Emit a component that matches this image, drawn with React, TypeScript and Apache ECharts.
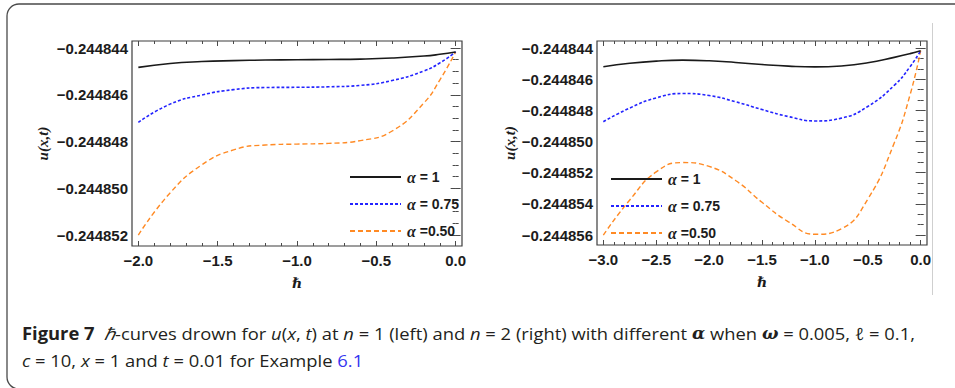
import React, { useEffect, useRef } from 'react';
import * as echarts from 'echarts';

// ---------- data ----------
const seriesNames = ['α = 1', 'α = 0.75', 'α =0.50'];

// left panel: n = 1
const xLeft = [-2, -1.8, -1.6, -1.4, -1.2, -1.0, -0.8, -0.6, -0.4, -0.2, -0.1, 0];
const leftAlpha1 = [-0.24484483, -0.24484466, -0.24484458, -0.24484454, -0.244844515, -0.2448445, -0.24484449, -0.244844475, -0.24484443, -0.244844345, -0.24484427, -0.24484417];
const leftAlpha075 = [-0.24484718, -0.2448464, -0.24484601, -0.24484578, -0.24484569, -0.24484568, -0.24484566, -0.2448456, -0.24484539, -0.24484498, -0.24484464, -0.24484417];
const leftAlpha050 = [-0.244852, -0.2448502, -0.244849, -0.24484836, -0.24484815, -0.24484811, -0.24484808, -0.24484796, -0.24484755, -0.24484635, -0.24484537, -0.24484417];

// right panel: n = 2
const xRight = [-3, -2.75, -2.5, -2.25, -2, -1.75, -1.5, -1.25, -1, -0.75, -0.5, -0.25, -0.1, 0];
const rightAlpha1 = [-0.2448452, -0.24484498, -0.24484484, -0.24484478, -0.24484482, -0.24484493, -0.24484506, -0.24484516, -0.24484521, -0.24484515, -0.24484495, -0.2448446, -0.24484436, -0.24484417];
const rightAlpha075 = [-0.24484873, -0.24484785, -0.2448472, -0.24484692, -0.24484705, -0.24484745, -0.24484795, -0.2448484, -0.24484868, -0.2448485, -0.24484775, -0.2448464, -0.2448452, -0.24484417];
const rightAlpha050 = [-0.244856, -0.24485375, -0.24485195, -0.24485135, -0.2448516, -0.2448525, -0.2448539, -0.24485515, -0.24485595, -0.2448556, -0.2448537, -0.2448501, -0.244847, -0.24484417];

// tick labels
const xTicksLeft = [-2, -1.5, -1, -0.5, 0];
const yTicksLeft = [-0.244852, -0.24485, -0.244848, -0.244846, -0.244844];
const xTicksRight = [-3, -2.5, -2, -1.5, -1, -0.5, 0];
const yTicksRight = [-0.244856, -0.244854, -0.244852, -0.24485, -0.244848, -0.244846, -0.244844];

// ---------- styling ----------
const TICK_FONT = '"Liberation Sans", Arial, sans-serif';
const SERIF = '"Liberation Serif", "DejaVu Serif", serif';
const CAP_FONT = '"Open Sans", sans-serif';
const TEXT_COLOR = '#1c1c1c';
const LINE_COLORS = ['#1a1a1a', '#2424ff', '#ff8a24'];
const LINE_TYPES: any[] = ['solid', [3, 2], [5, 3]];
const LINE_WIDTHS = [1.6, 1.6, 1.4];

function steps(from: number, to: number, step: number) {
  const out: number[] = [];
  const n = Math.round((to - from) / step);
  for (let k = 0; k <= n; k++) out.push(+(from + k * step).toPrecision(12));
  return out;
}

const fmtY = (v: number) => '\u2212' + Math.abs(v).toFixed(6);
const fmtX = (v: number) => (v < -1e-9 ? '\u2212' : '') + Math.abs(v).toFixed(1);

function makeAxes(
  dir: 'x' | 'y',
  gridIndex: number,
  min: number,
  max: number,
  major: number[],
  minor: number[],
  name: string,
  nameGap: number,
) {
  const positions = dir === 'x' ? ['bottom', 'bottom', 'top', 'top'] : ['left', 'left', 'right', 'right'];
  return positions.map((position, i) => {
    const isMajor = i % 2 === 0;
    const withLabels = i === 0;
    const ax: any = {
      type: 'value',
      gridIndex,
      position,
      min,
      max,
      scale: true,
      splitLine: { show: false },
      axisLine: { show: false },
      axisTick: {
        show: true,
        inside: true,
        length: isMajor ? 5 : 3,
        customValues: isMajor ? major : minor,
        lineStyle: { color: '#4a4a4a', width: 1 },
      },
      axisLabel: withLabels
        ? {
            show: true,
            customValues: major,
            formatter: dir === 'x' ? fmtX : fmtY,
            margin: dir === 'x' ? 7 : 4,
            fontFamily: TICK_FONT,
            fontWeight: 'bold',
            fontSize: 15,
            color: TEXT_COLOR,
            hideOverlap: false,
          }
        : { show: false },
      silent: true,
    };
    if (withLabels) {
      ax.name = name;
      ax.nameLocation = 'middle';
      ax.nameGap = nameGap;
      ax.nameMoveOverlap = false;
      ax.nameTextStyle =
        dir === 'x'
          ? { fontFamily: '"DejaVu Serif", serif', fontStyle: 'italic', fontWeight: 'bold', fontSize: 14, color: TEXT_COLOR }
          : { fontFamily: SERIF, fontStyle: 'italic', fontWeight: 'bold', fontSize: 15, color: TEXT_COLOR };
    }
    return ax;
  });
}

function mkSeries(xs: number[], ys: number[], idx: number, panel: number) {
  return {
    type: 'line',
    name: seriesNames[idx],
    xAxisIndex: panel * 4,
    yAxisIndex: panel * 4,
    data: xs.map((x, i) => [x, ys[i]]),
    smooth: true,
    symbol: 'none',
    silent: true,
    lineStyle: { color: LINE_COLORS[idx], width: LINE_WIDTHS[idx], type: LINE_TYPES[idx] },
    itemStyle: { color: LINE_COLORS[idx] },
    z: 3 - idx,
  };
}

// ---------- caption ----------
const CAP_COLOR = '#231f20';
const capStyles: Record<string, any> = {
  r: { fontFamily: CAP_FONT, fontSize: 17, fill: CAP_COLOR },
  b: { fontFamily: CAP_FONT, fontSize: 17, fontWeight: 'bold', fill: CAP_COLOR },
  i: { fontFamily: CAP_FONT, fontSize: 17, fontStyle: 'italic', fill: CAP_COLOR },
  g: { fontFamily: '"DejaVu Serif", serif', fontSize: 16, fontStyle: 'italic', fontWeight: 'bold', fill: CAP_COLOR },
  lk: { fontFamily: CAP_FONT, fontSize: 17, fill: '#3535f0' },
};
const captionLine1: [string, string][] = [
  ['b', 'Figure 7'], ['r', '  '], ['i', 'ℏ'], ['r', '-curves drown for '], ['i', 'u'], ['r', '('], ['i', 'x'],
  ['r', ', '], ['i', 't'], ['r', ') at '], ['i', 'n'], ['r', ' = 1 (left) and '], ['i', 'n'],
  ['r', ' = 2 (right) with different '], ['g', 'α'], ['r', ' when '], ['g', 'ω'], ['r', ' = 0.005, '],
  ['i', 'ℓ'], ['r', ' = 0.1,'],
];
const captionLine2: [string, string][] = [
  ['i', 'c'], ['r', ' = 10, '], ['i', 'x'], ['r', ' = 1 and '], ['i', 't'], ['r', ' = 0.01 for Example '], ['lk', '6.1'],
];

function measure(segs: [string, string][]) {
  const ctx = document.createElement('canvas').getContext('2d');
  if (!ctx) return 1000;
  let w = 0;
  for (const [k, t] of segs) {
    const s = capStyles[k];
    ctx.font = `${s.fontStyle || 'normal'} ${s.fontWeight || 'normal'} ${s.fontSize}px ${s.fontFamily}`;
    w += ctx.measureText(t).width;
  }
  return w;
}
const richText = (segs: [string, string][]) => segs.map(([k, t]) => `{${k}|${t}}`).join('');

export default function App() {
  const ref = useRef<HTMLDivElement>(null);

  useEffect(() => {
    if (!ref.current) return;
    const chart = echarts.init(ref.current, undefined, { renderer: 'svg' });

    const capScale = 893 / measure(captionLine1);

    const legendCommon = {
      orient: 'vertical',
      padding: 0,
      itemWidth: 51,
      itemHeight: 14,
      itemGap: 11,
      selectedMode: false,
      data: seriesNames,
      itemStyle: { opacity: 0, color: 'rgba(0,0,0,0)', borderWidth: 0 },
      formatter: (n: string) => n.replace('α', '{a|α}'),
      textStyle: {
        fontFamily: TICK_FONT,
        fontWeight: 'bold',
        fontSize: 14,
        lineHeight: 14,
        color: TEXT_COLOR,
        padding: [0, 0, 0, 1],
        rich: { a: { fontFamily: SERIF, fontStyle: 'italic', fontWeight: 'bold', fontSize: 16, lineHeight: 14, color: TEXT_COLOR } },
      },
    };

    const option: any = {
      animation: false,
      backgroundColor: '#ffffff',
      grid: [
        { left: 132, top: 41, width: 330, height: 205, show: true, borderColor: '#3d3d3d', borderWidth: 1.2, backgroundColor: 'transparent', outerBoundsMode: 'none' },
        { left: 597, top: 41, width: 330, height: 204, show: true, borderColor: '#3d3d3d', borderWidth: 1.2, backgroundColor: 'transparent', outerBoundsMode: 'none' },
      ],
      xAxis: [
        ...makeAxes('x', 0, -2.04, 0.04, xTicksLeft, steps(-2, 0, 0.1), 'ℏ', 30),
        ...makeAxes('x', 1, -3.06, 0.06, xTicksRight, steps(-3, 0, 0.1), 'ℏ', 30),
      ],
      yAxis: [
        ...makeAxes('y', 0, -0.24485247, -0.2448437, yTicksLeft, steps(-0.244852, -0.244844, 0.5e-6), 'u(x,t)', 82),
        ...makeAxes('y', 1, -0.24485664, -0.24484355, yTicksRight, steps(-0.244856, -0.244844, 2e-6 / 3), 'u(x,t)', 80),
      ],
      legend: [
        { ...legendCommon, left: 349, top: 169 },
        { ...legendCommon, left: 610, top: 171 },
      ],
      series: [
        mkSeries(xLeft, leftAlpha1, 0, 0),
        mkSeries(xLeft, leftAlpha075, 1, 0),
        mkSeries(xLeft, leftAlpha050, 2, 0),
        mkSeries(xRight, rightAlpha1, 0, 1),
        mkSeries(xRight, rightAlpha075, 1, 1),
        mkSeries(xRight, rightAlpha050, 2, 1),
      ],
      graphic: [
        {
          type: 'rect',
          silent: true,
          shape: { x: 7, y: 4, width: 1000, height: 385, r: 12 },
          style: { fill: 'none', stroke: '#4a4a4a', lineWidth: 1.3 },
        },
        {
          type: 'line',
          silent: true,
          shape: { x1: 932.5, y1: 23, x2: 932.5, y2: 295 },
          style: { stroke: '#cfcfcf', lineWidth: 1 },
        },
        {
          type: 'text',
          silent: true,
          x: 22,
          y: 333,
          scaleX: capScale,
          style: { text: richText(captionLine1), rich: capStyles, verticalAlign: 'middle', align: 'left' },
        },
        {
          type: 'text',
          silent: true,
          x: 22,
          y: 360,
          scaleX: capScale,
          style: { text: richText(captionLine2), rich: capStyles, verticalAlign: 'middle', align: 'left' },
        },
      ],
    };

    chart.setOption(option);
    return () => chart.dispose();
  }, []);

  return (
    <div
      ref={ref}
      style={{ position: 'fixed', left: 0, top: 0, width: 955, height: 388, background: '#fff' }}
    />
  );
}
